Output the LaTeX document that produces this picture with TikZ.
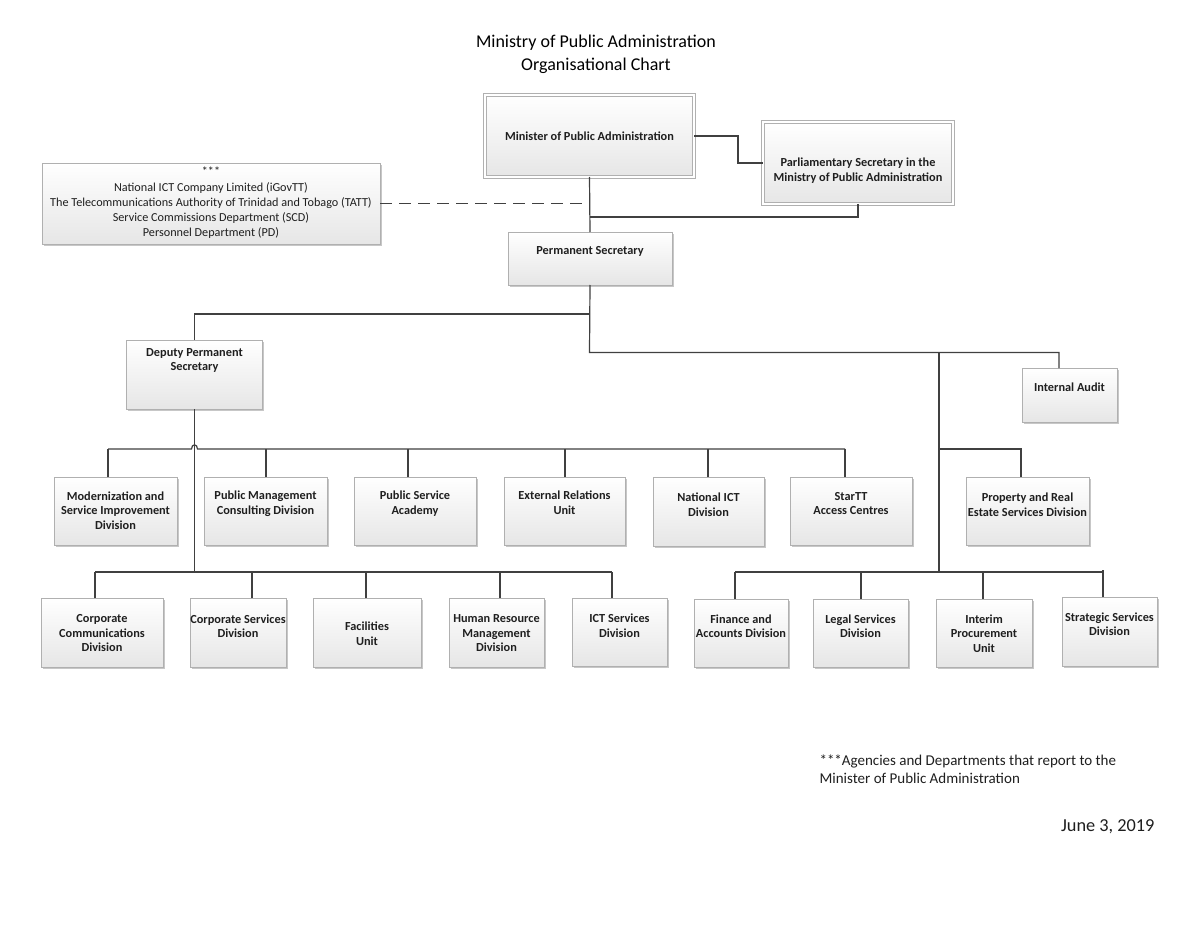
\documentclass[tikz,border=0pt]{standalone}
\usepackage{fontspec}
\setmainfont{Carlito}
\usetikzlibrary{shadows}
\definecolor{linec}{HTML}{404040}
\definecolor{boxline}{HTML}{B0B0B0}
\definecolor{boxbot}{HTML}{E6E6E6}
\definecolor{txt}{HTML}{1F1F1F}
\tikzset{
  orgbox/.style={draw=boxline, line width=0.8pt, top color=white, bottom color=boxbot,
    inner sep=0pt, outer sep=0pt,
    drop shadow={shadow xshift=1.6pt, shadow yshift=-1.6pt, fill=black, opacity=0.22}},
  dblbox/.style={orgbox, double=white, double distance=1.8pt, line width=0.7pt},
  lbl/.style={font=\fontsize{12.3}{14.5}\selectfont\bfseries, text=txt, align=center, inner sep=0pt},
  plain/.style={font=\fontsize{12.2}{15.2}\selectfont, text=txt, align=center, inner sep=0pt},
  conn/.style={draw=linec, line width=1.2pt},
}
\begin{document}
\begin{tikzpicture}[x=1pt,y=-1pt]
\useasboundingbox[fill=white] (0,0) rectangle (1200,928);

% title
\node[font=\fontsize{18}{23}\selectfont, text=black, align=center] (title) at (596,54) {Ministry of Public Administration\\Organisational Chart};

% boxes
\node[dblbox, minimum width=209pt, minimum height=82pt] (minister) at (589.5,136) {};
\node[dblbox, minimum width=190pt, minimum height=82pt] (parl) at (858,163) {};
\node[orgbox, minimum width=338pt, minimum height=81pt] (agencies) at (211,203.5) {};
\node[orgbox, minimum width=164pt, minimum height=53pt] (permsec) at (590,258.5) {};
\node[orgbox, minimum width=136pt, minimum height=69pt] (deputy) at (194.5,374.5) {};
\node[orgbox, minimum width=95pt, minimum height=54pt] (audit) at (1069.5,395) {};

\node[orgbox, minimum width=123pt, minimum height=68pt] (modern) at (115.5,511) {};
\node[orgbox, minimum width=123pt, minimum height=68pt] (pmc) at (265.5,511) {};
\node[orgbox, minimum width=122pt, minimum height=68pt] (psa) at (415,511) {};
\node[orgbox, minimum width=121pt, minimum height=68pt] (ext) at (564.5,511) {};
\node[orgbox, minimum width=111pt, minimum height=69pt] (nict) at (708.5,511.5) {};
\node[orgbox, minimum width=122pt, minimum height=68pt] (startt) at (851,511) {};
\node[orgbox, minimum width=123pt, minimum height=68pt] (prop) at (1027.5,511) {};

\node[orgbox, minimum width=122pt, minimum height=69pt] (corpcomm) at (102,632.5) {};
\node[orgbox, minimum width=96pt, minimum height=69pt] (corpserv) at (238,632.5) {};
\node[orgbox, minimum width=108pt, minimum height=69pt] (facil) at (367,632.5) {};
\node[orgbox, minimum width=95pt, minimum height=69pt] (hrm) at (496.5,632.5) {};
\node[orgbox, minimum width=95pt, minimum height=68pt] (ictsd) at (619.5,632) {};
\node[orgbox, minimum width=94pt, minimum height=68pt] (finance) at (741,633) {};
\node[orgbox, minimum width=95pt, minimum height=68pt] (legal) at (860.5,633) {};
\node[orgbox, minimum width=96pt, minimum height=68pt] (interim) at (984,633) {};
\node[orgbox, minimum width=95pt, minimum height=69pt] (strat) at (1109.5,631.5) {};

% texts
\node[lbl] (tminister) at (589.5,136) {Minister of Public Administration};
\node[lbl] (tparl) at (858,170.5) {Parliamentary Secretary in the\\Ministry of Public Administration};
\node[plain] (tagencies) at (211,203) {***\\National ICT Company Limited (iGovTT)\\The Telecommunications Authority of Trinidad and Tobago (TATT)\\Service Commissions Department (SCD)\\Personnel Department (PD)};
\node[lbl] (tpermsec) at (590,251) {Permanent Secretary};
\node[lbl] (tdeputy) at (194.5,360.5) {Deputy Permanent\\Secretary};
\node[lbl] (taudit) at (1069.5,387) {Internal Audit};
\node[lbl] (tmodern) at (115.5,510.5) {Modernization and\\Service Improvement\\Division};
\node[lbl] (tpmc) at (265.5,503.5) {Public Management\\Consulting Division};
\node[lbl] (tpsa) at (415,503.5) {Public Service\\Academy};
\node[lbl] (text) at (564.5,502.5) {External Relations\\Unit};
\node[lbl] (tnict) at (708.5,504.5) {National ICT\\Division};
\node[lbl] (tstartt) at (851,503.5) {StarTT\\Access Centres};
\node[lbl] (tprop) at (1027.5,504.5) {Property and Real\\Estate Services Division};
\node[lbl] (tcorpcomm) at (102,633.5) {Corporate\\Communications\\Division};
\node[lbl] (tcorpserv) at (238,626) {Corporate Services\\Division};
\node[lbl] (tfacil) at (367,633.5) {Facilities\\Unit};
\node[lbl] (thrm) at (496.5,633.5) {Human Resource\\Management\\Division};
\node[lbl] (tictsd) at (619.5,625.5) {ICT Services\\Division};
\node[lbl] (tfinance) at (741,626) {Finance and\\Accounts Division};
\node[lbl] (tlegal) at (860.5,626) {Legal Services\\Division};
\node[lbl] (tinterim) at (984,633.5) {Interim\\Procurement\\Unit};
\node[lbl] (tstrat) at (1109.5,624) {Strategic Services\\Division};

% footnotes
\node[font=\fontsize{15}{17.5}\selectfont, text=txt, align=left, anchor=west] (note) at (816,769) {***Agencies and Departments that report to the\\Minister of Public Administration};
\node[font=\fontsize{18.3}{20}\selectfont, text=txt, anchor=east] (date) at (1158,827) {June 3, 2019};

% junction coordinates
\coordinate (jA) at (589.5,217);
\coordinate (jB) at (589.5,314);
\coordinate (jC) at (589.5,352.5);
\coordinate (jD) at (939,352.5);
\coordinate (jE) at (939,449);
\coordinate (jF) at (939,572);
\coordinate (lbL) at (108,449);
\coordinate (hop1) at (191.5,449);
\coordinate (hop2) at (197.5,449);
\coordinate (hopc1) at (191.5,443.5);
\coordinate (hopc2) at (197.5,443.5);
\coordinate (lbR) at (845,449);
\coordinate (dpBot) at (194.5,572);
\coordinate (llL) at (95,572);
\coordinate (llR) at (612,572);
\coordinate (lrL) at (735,572);
\coordinate (lrR) at (1103,572);

% connectors top
\draw[conn] (minister.east) -- ++(44,0) |- (parl.west);
\draw[conn] (minister.south) -- (permsec.north);
\draw[conn, dash pattern=on 12pt off 7pt] (agencies.east) -- (agencies.east -| minister.south);
\draw[conn] (parl.south) |- (jA);
\draw[conn] (permsec.south) -- (jC) -- (jD) -| ([xshift=-10.5pt]audit.north);
\draw[conn] (jB) -| (deputy.north);
\draw[conn] (jD) -- (jF);
\draw[conn] (jE) -| ([xshift=-6.5pt]prop.north);

% deputy branch
\draw[conn] (deputy.south) -- (dpBot);
\draw[conn] (lbL) -- (hop1) .. controls (hopc1) and (hopc2) .. (hop2) -- (lbR);
\draw[conn] ([xshift=-7.5pt]modern.north) -- ++(0,-28);
\draw[conn] ([xshift=0.5pt]pmc.north) -- ++(0,-28);
\draw[conn] ([xshift=-7pt]psa.north) -- ++(0,-28);
\draw[conn] ([xshift=0.5pt]ext.north) -- ++(0,-28);
\draw[conn] ([xshift=-0.5pt]nict.north) -- ++(0,-28);
\draw[conn] ([xshift=-6pt]startt.north) -- ++(0,-28);

\draw[conn] (llL) -- (llR);
\draw[conn] ([xshift=-7pt]corpcomm.north) -- ++(0,-26);
\draw[conn] ([xshift=14pt]corpserv.north) -- ++(0,-26);
\draw[conn] ([xshift=-1pt]facil.north) -- ++(0,-26);
\draw[conn] ([xshift=3.5pt]hrm.north) -- ++(0,-26);
\draw[conn] ([xshift=-7.5pt]ictsd.north) -- ++(0,-26);

\draw[conn] (lrL) -- (lrR);
\draw[conn] ([xshift=-6pt]finance.north) -- ++(0,-27);
\draw[conn] ([xshift=0.5pt]legal.north) -- ++(0,-27);
\draw[conn] ([xshift=-1pt]interim.north) -- ++(0,-27);
\draw[conn] ([xshift=-6.5pt]strat.north) -- ++(0,-27);
\end{tikzpicture}
\end{document}
